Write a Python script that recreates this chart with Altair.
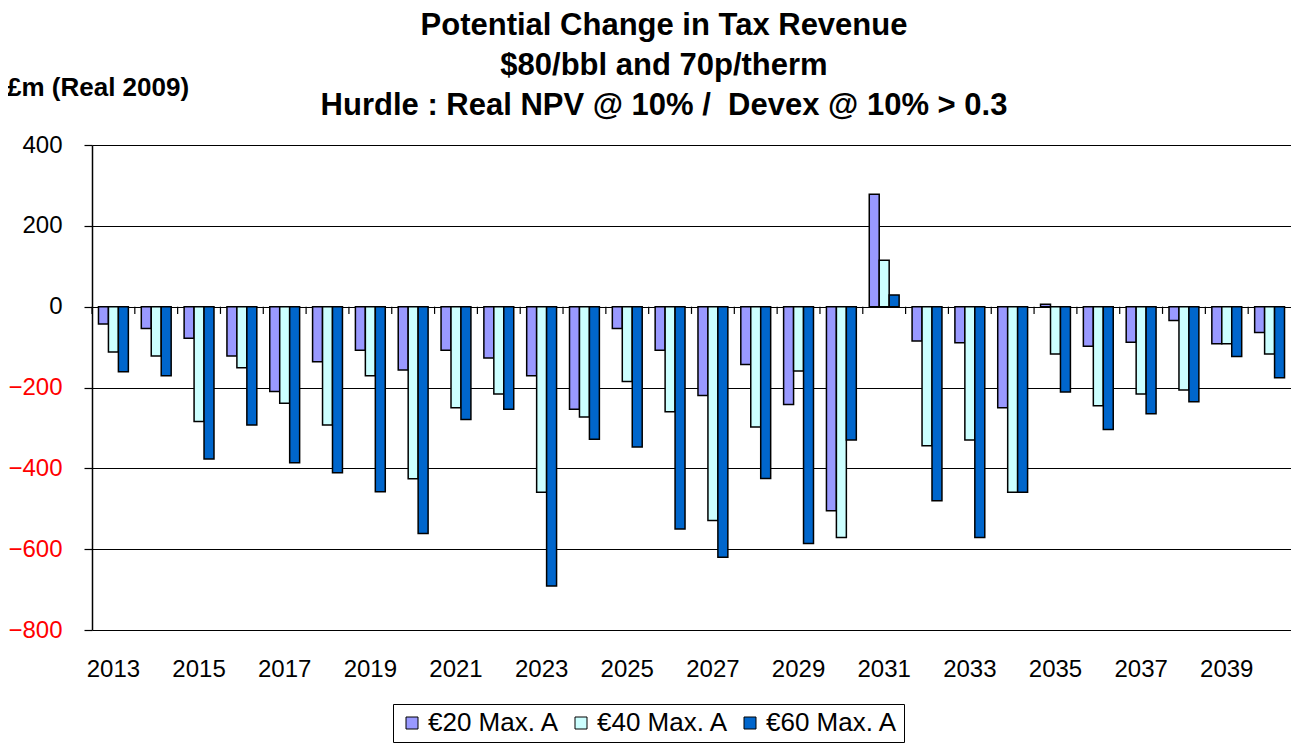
import altair as alt
import pandas as pd

FONT = "Liberation Sans"

years = list(range(2013, 2041))
series_names = ["€20 Max. A", "€40 Max. A", "€60 Max. A"]
eur20 = [-43, -54, -78, -122, -210, -136, -108, -157, -108, -127, -171, -254, -54, -108,
         -220, -143, -242, -505, 278, -85, -89, -250, 6, -98, -88, -34, -92, -64]
eur40 = [-112, -122, -284, -151, -239, -293, -171, -426, -250, -216, -459, -273, -185, -260,
         -529, -298, -159, -571, 115, -344, -330, -459, -117, -245, -216, -206, -92, -117]
eur60 = [-161, -171, -377, -293, -386, -411, -458, -561, -279, -254, -691, -328, -347, -550,
         -620, -425, -586, -330, 29, -480, -571, -459, -211, -304, -265, -235, -123, -176]
colors = ["#9999FF", "#CCFFFF", "#0066CC"]
y_ticks = [-800, -600, -400, -200, 0, 200, 400]
x_label_years = list(range(2013, 2041, 2))
title_lines = ["Potential Change in Tax Revenue",
               "$80/bbl and 70p/therm",
               "Hurdle : Real NPV @ 10% /\u00a0 Devex @ 10% > 0.3"]
unit_label = "£m (Real 2009)"

rows = []
for name, vals in zip(series_names, [eur20, eur40, eur60]):
    for yr, v in zip(years, vals):
        rows.append({"year": yr, "series": name, "value": v})
df = pd.DataFrame(rows)

x_scale = alt.Scale(paddingInner=0, paddingOuter=0)
y_scale = alt.Scale(domain=[-800, 400], nice=False)

x_axis = alt.Axis(values=x_label_years, title=None, labelAngle=0, domain=False, ticks=False,
                  labelFontSize=24, labelFont=FONT, labelPadding=27, labelColor="black")
y_axis = alt.Axis(values=y_ticks, title=None, grid=True, gridColor="black", gridWidth=1.2,
                  domainColor="black", domainWidth=1.5, tickColor="black", tickSize=8,
                  tickWidth=1.2, labelFontSize=24, labelFont=FONT, labelPadding=22,
                  format="d",
                  labelColor=alt.condition("datum.value < 0", alt.value("#FF0000"), alt.value("#000000")))

bars = alt.Chart(df).mark_bar(stroke="black", strokeWidth=1.5).encode(
    x=alt.X("year:O", scale=x_scale, axis=x_axis),
    xOffset=alt.XOffset("series:N", sort=series_names,
                        scale=alt.Scale(paddingOuter=0.65, paddingInner=0)),
    y=alt.Y("value:Q", scale=y_scale, axis=y_axis),
    color=alt.Color("series:N", sort=series_names,
                    scale=alt.Scale(domain=series_names, range=colors),
                    legend=alt.Legend(title=None, orient="none", legendX=301, legendY=559,
                                      direction="horizontal", strokeColor="black",
                                      padding=6, symbolType="square", symbolSize=144,
                                      symbolStrokeColor="black", symbolStrokeWidth=1,
                                      labelFontSize=26, labelFont=FONT, labelColor="black",
                                      columnPadding=8, labelOffset=3, fillColor="white")),
)

tick_df = pd.DataFrame({"year": years})
cat_ticks = alt.Chart(tick_df).mark_rule(color="black", strokeWidth=1.2).encode(
    x=alt.X("year:O", bandPosition=0, scale=x_scale, axis=x_axis),
    y=alt.datum(0),
    y2=alt.datum(-18),
)

title_layers = []
for line, ypos in zip(title_lines, [-119, -79, -39]):
    title_layers.append(
        alt.Chart(pd.DataFrame({"t": [line]})).mark_text(
            font=FONT, fontSize=31, fontWeight="bold", color="black",
            align="center", baseline="middle"
        ).encode(x=alt.value(572), y=alt.value(ypos), text="t:N")
    )

unit_text = alt.Chart(pd.DataFrame({"t": [unit_label]})).mark_text(
    font=FONT, fontSize=26, fontWeight="bold", color="black", align="left", baseline="middle"
).encode(x=alt.value(-85), y=alt.value(-57), text="t:N")

chart = alt.layer(bars, cat_ticks, unit_text, *title_layers).properties(
    width=1199, height=485,
    autosize=alt.AutoSizeParams(type="none"),
    padding={"left": 84, "top": 137, "right": 0, "bottom": 115},
    background="white",
).configure_view(stroke=None)

chart.save("out.html", embed_options={"renderer": "svg", "actions": False})
